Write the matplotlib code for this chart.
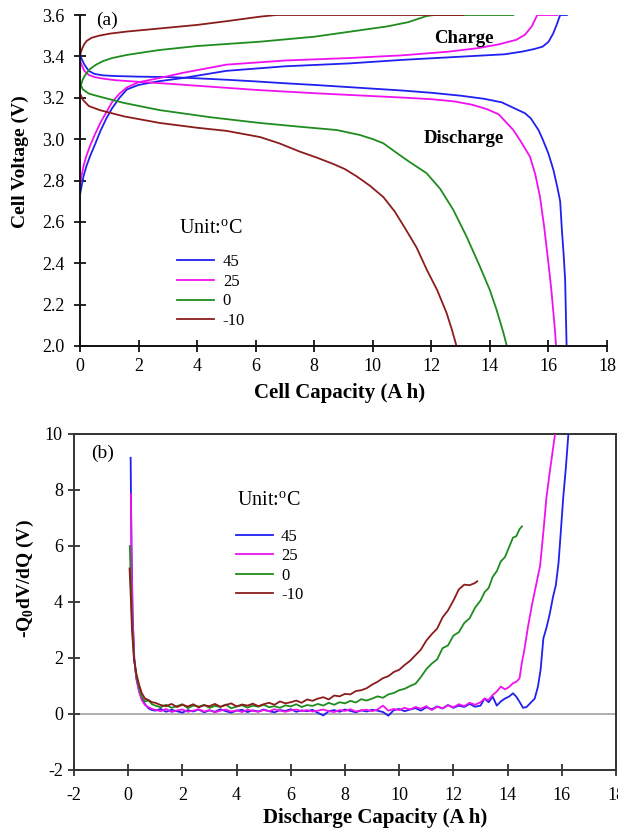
import matplotlib
matplotlib.use("Agg")
import matplotlib.pyplot as plt
import numpy as np

plt.rcParams['font.family'] = ['Liberation Serif', 'DejaVu Serif']
plt.rcParams['mathtext.fontset'] = 'custom'
plt.rcParams['mathtext.rm'] = 'Liberation Serif'
plt.rcParams['mathtext.bf'] = 'Liberation Serif:bold'
plt.rcParams['axes.unicode_minus'] = False

# ---------------- data: (a) charge / discharge voltage curves ----------------
temps = ['45', '25', '0', '-10']
colors = ['#2020f0', '#f010f0', '#1e8c1e', '#8c1c1c']

# discharge
dis_cap_45 = [0, 0.05, 0.15, 0.3, 0.5, 0.8, 1.2, 2.0, 3.0, 4.0, 5.0, 6.0, 7.0, 8.0, 9.0, 10.0,
              11.0, 12.0, 13.0, 13.8, 14.4, 14.9, 15.2, 15.4, 15.66, 15.8, 16.0, 16.17, 16.3,
              16.4, 16.46, 16.52, 16.57, 16.62]
dis_v_45 = [3.41, 3.39, 3.36, 3.33, 3.315, 3.308, 3.305, 3.302, 3.30, 3.294, 3.287, 3.279, 3.27,
            3.262, 3.253, 3.244, 3.235, 3.224, 3.21, 3.195, 3.178, 3.145, 3.125, 3.10, 3.044,
            3.0, 2.93, 2.851, 2.77, 2.70, 2.56, 2.44, 2.32, 2.0]
dis_cap_25 = [0, 0.05, 0.15, 0.3, 0.5, 0.8, 1.2, 2, 3, 4, 5, 6, 7, 8, 9, 10, 11, 12, 12.8, 13.4,
              13.9, 14.3, 14.8, 15.05, 15.37, 15.55, 15.71, 15.85, 16.0, 16.1, 16.17, 16.22, 16.26]
dis_v_25 = [3.382, 3.36, 3.33, 3.31, 3.30, 3.292, 3.285, 3.277, 3.268, 3.258, 3.248, 3.238, 3.23,
            3.222, 3.215, 3.208, 3.201, 3.193, 3.182, 3.166, 3.145, 3.12, 3.044, 2.99, 2.915,
            2.83, 2.722, 2.58, 2.40, 2.27, 2.16, 2.08, 2.0]
dis_cap_0 = [0, 0.1, 0.3, 0.68, 1.5, 2.73, 4.5, 6.15, 7.5, 8.77, 9.56, 10.0, 10.36, 10.8, 11.2,
             11.84, 12.3, 12.75, 13.2, 13.66, 14.0, 14.23, 14.45, 14.58]
dis_v_0 = [3.27, 3.24, 3.22, 3.205, 3.175, 3.14, 3.105, 3.078, 3.06, 3.044, 3.02, 3.0, 2.98,
           2.935, 2.895, 2.835, 2.76, 2.658, 2.53, 2.384, 2.27, 2.174, 2.07, 2.0]
dis_cap_m10 = [0, 0.1, 0.3, 0.68, 1.5, 2.73, 4.0, 5.0, 6.15, 6.8, 7.5, 8.1, 8.65, 9.05, 9.45,
               9.9, 10.36, 10.75, 11.1, 11.5, 11.84, 12.2, 12.52, 12.7, 12.86]
dis_v_m10 = [3.22, 3.19, 3.16, 3.14, 3.11, 3.078, 3.055, 3.04, 3.01, 2.98, 2.94, 2.91, 2.88,
             2.855, 2.82, 2.775, 2.72, 2.65, 2.57, 2.475, 2.37, 2.27, 2.16, 2.08, 2.0]

# charge
chg_cap_45 = [0, 0.05, 0.12, 0.22, 0.35, 0.5, 0.7, 0.9, 1.1, 1.35, 1.6, 2.0, 2.7, 3.5, 5.0, 7.0,
              9.2, 11.0, 13.2, 14.5, 15.1, 15.5, 15.8, 16.0, 16.16, 16.3, 16.4, 16.63]
chg_v_45 = [2.73, 2.77, 2.82, 2.87, 2.92, 2.97, 3.04, 3.10, 3.15, 3.20, 3.24, 3.262, 3.28, 3.295,
            3.33, 3.352, 3.366, 3.383, 3.40, 3.41, 3.423, 3.435, 3.447, 3.47, 3.51, 3.56, 3.6, 3.6]
chg_cap_25 = [0, 0.05, 0.12, 0.22, 0.35, 0.5, 0.7, 0.9, 1.1, 1.35, 1.6, 2.0, 2.7, 3.5, 5.0, 7.0,
              9.2, 11.0, 12.6, 13.6, 14.3, 14.9, 15.2, 15.43, 15.55, 15.62, 16.3]
chg_v_25 = [2.78, 2.82, 2.87, 2.92, 2.97, 3.02, 3.08, 3.13, 3.18, 3.22, 3.25, 3.275, 3.295, 3.32,
            3.36, 3.38, 3.392, 3.405, 3.423, 3.44, 3.458, 3.48, 3.505, 3.545, 3.58, 3.6, 3.6]
chg_cap_0 = [0, 0.04, 0.1, 0.2, 0.35, 0.55, 0.8, 1.1, 1.6, 2.2, 2.73, 4.0, 6.15, 8.0, 9.5, 10.5,
             11.2, 11.84, 12.1, 14.8]
chg_v_0 = [3.24, 3.265, 3.29, 3.315, 3.34, 3.36, 3.378, 3.392, 3.407, 3.42, 3.431, 3.45, 3.471,
           3.495, 3.525, 3.545, 3.565, 3.595, 3.6, 3.6]
chg_cap_m10 = [0, 0.03, 0.08, 0.15, 0.23, 0.4, 0.65, 1.02, 1.6, 2.73, 4.0, 5.0, 6.15, 6.7, 13.1]
chg_v_m10 = [3.40, 3.42, 3.44, 3.46, 3.475, 3.49, 3.50, 3.51, 3.52, 3.535, 3.552, 3.57, 3.592,
             3.6, 3.6]

# ---------------- data: (b) -Q0 dV/dQ during discharge ----------------
# initial drop after the start of discharge
head_q_45 = [0.09, 0.12, 0.16, 0.22, 0.3, 0.4, 0.5, 0.62, 0.75, 0.88]
head_v_45 = [9.15, 6.0, 3.6, 2.0, 1.3, 0.85, 0.55, 0.35, 0.2, 0.14]
head_q_25 = [0.1, 0.13, 0.17, 0.23, 0.3, 0.4, 0.5, 0.62, 0.75, 0.88]
head_v_25 = [7.85, 5.2, 3.3, 1.9, 1.25, 0.8, 0.5, 0.32, 0.24, 0.18]
head_q_0 = [0.06, 0.1, 0.15, 0.22, 0.3, 0.4, 0.5, 0.62, 0.75, 0.88]
head_v_0 = [6.0, 4.6, 3.1, 1.95, 1.35, 0.95, 0.62, 0.45, 0.48, 0.35]
head_q_m10 = [0.05, 0.09, 0.14, 0.21, 0.3, 0.4, 0.5, 0.62, 0.75, 0.88]
head_v_m10 = [5.2, 4.3, 3.0, 2.0, 1.45, 1.05, 0.75, 0.55, 0.5, 0.42]

# plateau region, sampled every 0.2 A h from 1.0 to 12.8 A h
base_q = [1.0, 1.2, 1.4, 1.6, 1.8, 2.0, 2.2, 2.4, 2.6, 2.8,
          3.0, 3.2, 3.4, 3.6, 3.8, 4.0, 4.2, 4.4, 4.6, 4.8,
          5.0, 5.2, 5.4, 5.6, 5.8, 6.0, 6.2, 6.4, 6.6, 6.8,
          7.0, 7.2, 7.4, 7.6, 7.8, 8.0, 8.2, 8.4, 8.6, 8.8,
          9.0, 9.2, 9.4, 9.6, 9.8, 10.0, 10.2, 10.4, 10.6, 10.8,
          11.0, 11.2, 11.4, 11.6, 11.8, 12.0, 12.2, 12.4, 12.6, 12.8]
base_v_45 = [0.12, 0.18, 0.08, 0.15, 0.10, 0.05, 0.14, 0.09, 0.16, 0.06,
             0.13, 0.08, 0.17, 0.10, 0.05, 0.12, 0.15, 0.07, 0.13, 0.09,
             0.16, 0.10, 0.06, 0.14, 0.11, 0.17, 0.08, 0.13, 0.10, 0.15,
             0.04, -0.05, 0.10, 0.14, 0.08, 0.16, 0.11, 0.06, 0.13, 0.09,
             0.15, 0.12, 0.07, -0.06, 0.14, 0.18, 0.10, 0.16, 0.21, 0.12,
             0.24, 0.17, 0.27, 0.20, 0.32, 0.22, 0.30, 0.25, 0.36, 0.26]
base_v_25 = [0.15, 0.10, 0.18, 0.07, 0.13, 0.16, 0.08, 0.12, 0.17, 0.09,
             0.14, 0.06, 0.12, 0.16, 0.09, 0.13, 0.07, 0.15, 0.11, 0.08,
             0.14, 0.10, 0.17, 0.12, 0.08, 0.13, 0.16, 0.10, 0.14, 0.09,
             0.12, 0.16, 0.10, 0.07, 0.14, 0.11, 0.17, 0.09, 0.13, 0.15,
             0.10, 0.16, 0.30, 0.12, 0.18, 0.14, 0.22, 0.16, 0.25, 0.19,
             0.28, 0.14, 0.26, 0.20, 0.31, 0.24, 0.35, 0.28, 0.40, 0.33]
base_v_0 = [0.30, 0.24, 0.33, 0.22, 0.28, 0.35, 0.21, 0.30, 0.26, 0.33,
            0.22, 0.29, 0.25, 0.34, 0.20, 0.27, 0.31, 0.23, 0.30, 0.26,
            0.33, 0.24, 0.28, 0.22, 0.31, 0.27, 0.35, 0.25, 0.32, 0.29,
            0.36, 0.30, 0.40, 0.33, 0.42, 0.38, 0.47, 0.41, 0.53, 0.48,
            0.55, 0.63, 0.58, 0.70, 0.75, 0.85, 0.90, 1.00, 1.08, 1.32,
            1.60, 1.80, 1.95, 2.35, 2.45, 2.80, 2.92, 3.25, 3.42, 3.80]
base_v_m10 = [0.40, 0.32, 0.28, 0.36, 0.25, 0.33, 0.27, 0.35, 0.24, 0.31,
              0.28, 0.36, 0.26, 0.32, 0.38, 0.27, 0.34, 0.30, 0.37, 0.28,
              0.35, 0.40, 0.33, 0.45, 0.38, 0.42, 0.48, 0.40, 0.52, 0.47,
              0.55, 0.60, 0.52, 0.66, 0.63, 0.72, 0.70, 0.82, 0.85, 0.92,
              1.05, 1.15, 1.28, 1.35, 1.50, 1.58, 1.75, 1.90, 2.10, 2.30,
              2.62, 2.85, 3.05, 3.45, 3.70, 4.05, 4.45, 4.62, 4.60, 4.68]

# end of discharge
tail_q_45 = [13.0, 13.15, 13.3, 13.45, 13.6, 13.75, 13.9, 14.05, 14.2, 14.32, 14.45, 14.57, 14.7,
             14.85, 15.0, 15.12, 15.22, 15.32, 15.44, 15.56, 15.68, 15.78, 15.88, 15.97, 16.05,
             16.15, 16.24, 16.32]
tail_v_45 = [0.30, 0.55, 0.42, 0.62, 0.30, 0.45, 0.55, 0.62, 0.74, 0.62, 0.42, 0.22, 0.25, 0.40,
             0.55, 0.98, 1.6, 2.7, 3.1, 3.6, 4.2, 4.6, 5.4, 6.6, 7.7, 8.8, 9.96, 10.8]
tail_q_25 = [13.0, 13.15, 13.3, 13.45, 13.6, 13.75, 13.9, 14.05, 14.2, 14.32, 14.44, 14.52, 14.62,
             14.75, 14.9, 15.05, 15.2, 15.32, 15.43, 15.55, 15.65, 15.75, 15.82]
tail_v_25 = [0.42, 0.55, 0.50, 0.68, 0.80, 0.98, 0.88, 0.96, 1.10, 1.15, 1.27, 1.8, 2.3, 3.1, 3.9,
             4.6, 5.3, 6.5, 7.7, 8.6, 9.3, 10.0, 10.6]
tail_q_0 = [13.0, 13.15, 13.3, 13.45, 13.6, 13.75, 13.9, 14.05, 14.2, 14.32, 14.44, 14.53]
tail_v_0 = [4.05, 4.35, 4.5, 4.9, 5.1, 5.45, 5.6, 5.95, 6.3, 6.35, 6.6, 6.7]
tail_q_m10 = [12.88]
tail_v_m10 = [4.74]

legend_title = 'Unit:$^{\\mathrm{o}}$C'

# ---------------- figure ----------------
W, H = 618, 833
fig = plt.figure(figsize=(W / 100, H / 100), dpi=100)

ax1 = fig.add_axes([80 / W, 1 - 346 / H, (607 - 80) / W, (346 - 15) / H])
ax2 = fig.add_axes([74 / W, 1 - 770 / H, (616 - 74) / W, (770 - 434) / H])

lw = 1.3
tick_fs = 13

# (a)
dis_curves = [(dis_cap_45, dis_v_45), (dis_cap_25, dis_v_25), (dis_cap_0, dis_v_0),
              (dis_cap_m10, dis_v_m10)]
chg_curves = [(chg_cap_45, chg_v_45), (chg_cap_25, chg_v_25), (chg_cap_0, chg_v_0),
              (chg_cap_m10, chg_v_m10)]
handles_a = []
for (cq, cv), (dq, dv), col, t in zip(chg_curves, dis_curves, colors, temps):
    ax1.plot(cq, cv, color=col, lw=lw)
    h, = ax1.plot(dq, dv, color=col, lw=lw, label=t)
    handles_a.append(h)

ax1.set_xlim(0, 18)
ax1.set_ylim(2.0, 3.6)
ax1.set_xticks(np.arange(0, 19, 2))
ax1.set_yticks(np.arange(2.0, 3.61, 0.2))
ax1.yaxis.set_major_formatter(matplotlib.ticker.FormatStrFormatter('%.1f'))
for s in ['top', 'right']:
    ax1.spines[s].set_visible(False)
for s in ['left', 'bottom']:
    ax1.spines[s].set_linewidth(1.4)
    ax1.spines[s].set_color('#111111')
ax1.tick_params(axis='both', direction='inout', length=8, width=1.3, labelsize=tick_fs,
                color='#111111')
ax1.tick_params(axis='y', pad=7)
ax1.tick_params(axis='x', pad=5)

ax1.set_xlabel('Cell Capacity (A h)', fontsize=15, fontweight='bold')
ax1.xaxis.set_label_coords(0.493, -0.142)
ax1.xaxis.label.set_va('center')
ax1.set_ylabel('Cell Voltage (V)', fontsize=14, fontweight='bold')
ax1.yaxis.set_label_coords(-0.114, 0.556)
ax1.yaxis.label.set_va('center')

ax1.text(0.92, 3.576, '(a)', fontsize=14, ha='center', va='center')
ax1.text(13.1, 3.484, 'Charge', fontsize=13.5, fontweight='bold', ha='center', va='center')
ax1.text(13.1, 3.005, 'Discharge', fontsize=13.5, fontweight='bold', ha='center', va='center')

fig.text(179 / W, 1 - 230 / H, legend_title, fontsize=14.5, ha='left', va='center')
ax1.legend(handles=handles_a, frameon=False, fontsize=12, loc='upper left',
           bbox_to_anchor=(177 / W, 1 - 254 / H), bbox_transform=fig.transFigure,
           borderpad=0, borderaxespad=0, handlelength=2.2, handletextpad=0.55,
           labelspacing=0.22)

# (b)
ax2.axhline(0, color='#a8a8a8', lw=1.3, zorder=1)
heads = [(head_q_45, head_v_45), (head_q_25, head_v_25), (head_q_0, head_v_0),
         (head_q_m10, head_v_m10)]
bases = [base_v_45, base_v_25, base_v_0, base_v_m10]
tails = [(tail_q_45, tail_v_45), (tail_q_25, tail_v_25), (tail_q_0, tail_v_0),
         (tail_q_m10, tail_v_m10)]
handles_b = []
for (hq, hv), bv, (tq, tv), col, t in zip(heads, bases, tails, colors, temps):
    q = hq + base_q + tq
    v = hv + bv + tv
    h, = ax2.plot(q, v, color=col, lw=lw, label=t, zorder=3)
    handles_b.append(h)

ax2.set_xlim(-2, 18)
ax2.set_ylim(-2, 10)
ax2.set_xticks(np.arange(-2, 19, 2))
ax2.set_yticks(np.arange(-2, 11, 2))
for s in ax2.spines.values():
    s.set_linewidth(1.4)
    s.set_color('#333333')
ax2.tick_params(axis='both', direction='inout', length=8, width=1.3, labelsize=tick_fs,
                color='#333333')
ax2.tick_params(axis='y', pad=4)
ax2.tick_params(axis='x', pad=8)

ax2.set_xlabel('Discharge Capacity (A h)', fontsize=15, fontweight='bold')
ax2.xaxis.set_label_coords(0.555, -0.143)
ax2.xaxis.label.set_va('center')
ax2.set_ylabel('-Q$_{\\mathbf{0}}$dV/dQ (V)', fontsize=14, fontweight='bold')
ax2.yaxis.set_label_coords(-0.089, 0.571)
ax2.yaxis.label.set_va('center')

ax2.text(-0.93, 9.32, '(b)', fontsize=14, ha='center', va='center')

fig.text(237 / W, 1 - 501 / H, legend_title, fontsize=14.5, ha='left', va='center')
ax2.legend(handles=handles_b, frameon=False, fontsize=12, loc='upper left',
           bbox_to_anchor=(236 / W, 1 - 529 / H), bbox_transform=fig.transFigure,
           borderpad=0, borderaxespad=0, handlelength=2.2, handletextpad=0.5,
           labelspacing=0.2)

fig.savefig('out.png', dpi=100)
